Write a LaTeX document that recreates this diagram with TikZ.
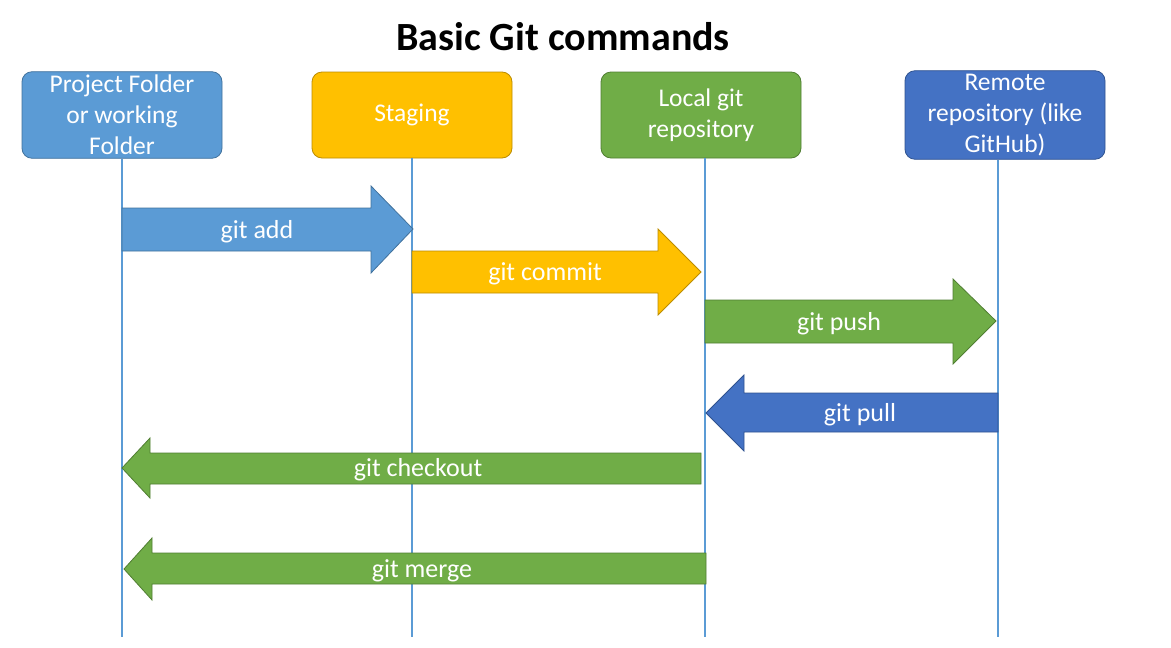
\documentclass[tikz,border=0pt]{standalone}
\usepackage{fontspec}
\setmainfont{Carlito}
\usetikzlibrary{positioning}
\definecolor{WorkBlue}{RGB}{91,155,213}
\definecolor{WorkEdge}{RGB}{65,113,156}
\definecolor{StageGold}{RGB}{255,192,0}
\definecolor{StageEdge}{RGB}{188,140,0}
\definecolor{LocalGreen}{RGB}{112,173,71}
\definecolor{LocalEdge}{RGB}{80,126,50}
\definecolor{RemoteBlue}{RGB}{68,114,196}
\definecolor{RemoteEdge}{RGB}{47,82,143}

\begin{document}
\begin{tikzpicture}[x=1pt, y=-1pt,
	box/.style={rounded corners=10pt, minimum width=200pt, minimum height=86pt,
		align=center, text=white, line width=0.8pt,
		font=\fontsize{25.5}{31}\selectfont},
	life/.style={WorkBlue, line width=1.3pt},
	blk/.style={line width=0.8pt},
	lbl/.style={text=white, font=\fontsize{26}{30}\selectfont}]
		\useasboundingbox (0,0) rectangle (1171,648);
		% 标题
		\node[font=\bfseries\fontsize{40}{46}\selectfont] (title) at (563,37) {Basic Git commands};
		% 四个区域
		\node[box, fill=WorkBlue, draw=WorkEdge] (work) at (122,115) {Project Folder\\or working\\Folder};
		\node[box, fill=StageGold, draw=StageEdge] (stage) at (412,115) {Staging};
		\node[box, fill=LocalGreen, draw=LocalEdge] (local) at (701,115) {Local git\\repository};
		\node[box, fill=RemoteBlue, draw=RemoteEdge] (remote) at (1005,115) {Remote\\repository (like\\GitHub)};
		% 竖线
		\coordinate (workend) at (122,637);
		\coordinate (stageend) at (412,637);
		\coordinate (localend) at (705,637);
		\coordinate (remoteend) at (998,637);
		\draw[life] (work.south -| workend) -- (workend);
		\draw[life] (stage.south -| stageend) -- (stageend);
		\draw[life] (local.south -| localend) -- (localend);
		\draw[life] (remote.south -| remoteend) -- (remoteend);
		% git add
		\draw[blk, fill=WorkBlue, draw=WorkEdge] (122,208) -- (371,208) -- (371,186) -- (413,229)
			-- (371,273) -- (371,251) -- (122,251) -- cycle;
		\node[lbl] (add) at (257,232) {git add};
		% git commit
		\draw[blk, fill=StageGold, draw=StageEdge] (412,251) -- (658,251) -- (658,229) -- (701,272)
			-- (658,315) -- (658,293) -- (412,293) -- cycle;
		\node[lbl] (commit) at (545,274) {git commit};
		% git push
		\draw[blk, fill=LocalGreen, draw=LocalEdge] (705,300) -- (953,300) -- (953,279) -- (996,321)
			-- (953,364) -- (953,343) -- (705,343) -- cycle;
		\node[lbl] (push) at (839,324) {git push};
		% git pull
		\draw[blk, fill=RemoteBlue, draw=RemoteEdge] (998,393) -- (744,393) -- (744,375) -- (706,413)
			-- (744,451) -- (744,432) -- (998,432) -- cycle;
		\node[lbl] (pull) at (860,415) {git pull};
		% git checkout
		\draw[blk, fill=LocalGreen, draw=LocalEdge] (701,453) -- (150,453) -- (150,438) -- (122,468)
			-- (150,498) -- (150,484) -- (701,484) -- cycle;
		\node[lbl] (checkout) at (418,470) {git checkout};
		% git merge
		\draw[blk, fill=LocalGreen, draw=LocalEdge] (706,553) -- (152,553) -- (152,538) -- (124,569)
			-- (152,600) -- (152,584) -- (706,584) -- cycle;
		\node[lbl] (merge) at (422,571) {git merge};
	\end{tikzpicture}
\end{document}
